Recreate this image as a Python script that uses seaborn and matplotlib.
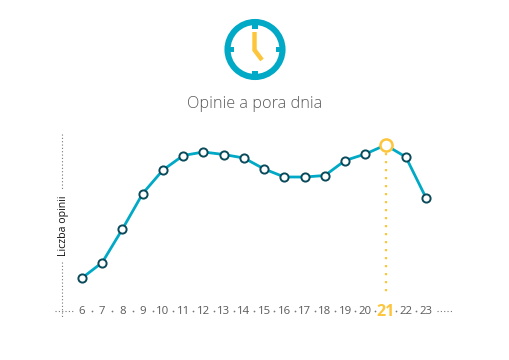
import numpy as np
import pandas as pd
import seaborn as sns
import matplotlib.pyplot as plt
from matplotlib.patches import Circle, Rectangle

sns.set_style("white")
plt.rcParams['font.family'] = ['Open Sans', 'DejaVu Sans']

hours = [6, 7, 8, 9, 10, 11, 12, 13, 14, 15, 16, 17, 18, 19, 20, 21, 22, 23]
opinions = [32, 47.5, 81, 116.5, 140, 154.5, 158, 155.5, 152, 141, 133, 133, 134.5, 149.5, 156, 165, 153, 112]
peak_hour = 21
title = 'Opinie a pora dnia'
ylabel = 'Liczba opinii'

TEAL = '#00a9c5'
DARK = '#0b4a5a'
YELLOW = '#fdc53c'
GREY = '#5a5a5a'

W, H = 510, 360
STEP = 20.24

df = pd.DataFrame({'hour': hours, 'opinions': opinions})
peak = df[df['hour'] == peak_hour]

fig = plt.figure(figsize=(W / 100, H / 100), dpi=100)

# warstwa pomocnicza w pikselach: zegar, tytul, kropkowane osie
bg = fig.add_axes([0, 0, 1, 1])
bg.set_xlim(0, W)
bg.set_ylim(H, 0)
bg.axis('off')

bg.add_patch(Circle((255, 49.5), 27.5, fc='white', ec=TEAL, lw=4.4))
for dx, dy, w, h in [(-2.75, -27, 5.5, 6), (-2.75, 21, 5.5, 6), (-27, -2.75, 6, 5.5), (21, -2.75, 6, 5.5)]:
    bg.add_patch(Rectangle((255 + dx, 49.5 + dy), w, h, fc=TEAL, ec='none'))
bg.plot([254.5, 254.5, 262], [32, 50, 60], color=YELLOW, lw=3.2, solid_joinstyle='miter', solid_capstyle='butt')

bg.text(254.5, 103.5, title, ha='center', va='center', fontsize=11.7, color=GREY, fontweight='light')

dots = dict(color='#777777', lw=0.8, ls=(0, (1, 2)))
bg.plot([62.5, 62.5], [134, 190], **dots)
bg.plot([62.5, 62.5], [262, 317], **dots)
bg.plot([55, 73], [310.5, 310.5], **dots)
bg.plot([437, 452], [310.5, 310.5], **dots)

# wykres
left, right, top, bottom = 62, 452, 134, 303
ax = fig.add_axes([left / W, 1 - bottom / H, (right - left) / W, (bottom - top) / H])
ax.patch.set_alpha(0)
ax.set_xlim(6 + (left - 82) / STEP, 6 + (right - 82) / STEP)
ax.set_ylim(310 - bottom, 310 - top)

ax.plot([peak_hour, peak_hour], [peak['opinions'].iloc[0] - 8, 15], color=YELLOW, lw=1.6, ls=(0, (1, 2.6)))
sns.lineplot(data=df, x='hour', y='opinions', ax=ax, color=TEAL, lw=2.0, marker='o', ms=5.9,
             mfc='white', mec=DARK, mew=1.4, clip_on=False)
sns.scatterplot(data=peak, x='hour', y='opinions', ax=ax, s=76, color='white', edgecolor=YELLOW,
                linewidth=1.8, zorder=5, clip_on=False)

sns.despine(ax=ax, left=True, bottom=True)
ax.set_xlabel('')
ax.set_ylabel('')
ax.set_yticks([])
ax.set_xticks(hours)
ax.set_xticklabels(hours)
ax.tick_params(axis='x', length=0, pad=2.2, labelsize=8.2, labelcolor=GREY)
for lab, h in zip(ax.get_xticklabels(), hours):
    if h == peak_hour:
        lab.set_color(YELLOW)
        lab.set_fontweight('bold')
        lab.set_fontsize(11.5)
        lab.set_y(0.015)

# kropki miedzy etykietami godzin
bg.scatter([82 + (h - 5.5) * STEP for h in hours[:-1]], [310.5] * (len(hours) - 1), s=1.6, color='#777777', lw=0)

bg.text(64, 225.5, ylabel, rotation=90, ha='center', va='center', fontsize=7.6, color='#111111')

fig.savefig('out.png', dpi=100)
